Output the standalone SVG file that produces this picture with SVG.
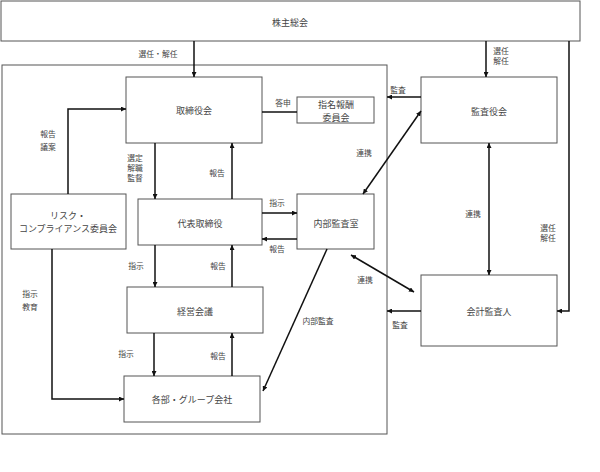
<svg xmlns="http://www.w3.org/2000/svg" width="600" height="472" viewBox="0 0 600 472">
<defs>
<style>
.box{fill:#fff;stroke:#555;stroke-width:1}
.frame{fill:none;stroke:#555;stroke-width:1}
.t{font-family:"Noto Sans CJK JP","Noto Sans",sans-serif;font-size:9px;fill:#444;text-anchor:middle;dominant-baseline:central}
.l{font-family:"Noto Sans CJK JP","Noto Sans",sans-serif;font-size:7.8px;fill:#444;text-anchor:middle;dominant-baseline:central}
.c{fill:none;stroke:#111;stroke-width:1.5}
</style>
<marker id="ah" viewBox="0 0 10 10" refX="10" refY="5" markerWidth="5" markerHeight="5" markerUnits="userSpaceOnUse" orient="auto"><path d="M0,0L10,5L0,10z" fill="#111"/></marker>
<marker id="as" viewBox="0 0 10 10" refX="0" refY="5" markerWidth="5" markerHeight="5" markerUnits="userSpaceOnUse" orient="auto"><path d="M10,0L0,5L10,10z" fill="#111"/></marker>
</defs>
<rect width="600" height="472" fill="#fff"/>
<rect class="frame" x="2" y="65" width="385" height="369"/>
<g id="shareholders"><rect class="box" x="1" y="1" width="579" height="40"/><text class="t" x="290" y="22">株主総会</text></g>
<g id="board"><rect class="box" x="126" y="77" width="136" height="66"/><text class="t" x="194" y="110">取締役会</text></g>
<g id="nomination"><rect class="box" x="297" y="97" width="77" height="26"/><text class="t" x="336" y="104">指名報酬</text><text class="t" x="336" y="117">委員会</text></g>
<g id="auditboard"><rect class="box" x="421" y="77" width="136" height="66"/><text class="t" x="489" y="111">監査役会</text></g>
<g id="risk"><rect class="box" x="11" y="194" width="115" height="55"/><text class="t" x="68" y="215.5">リスク・</text><text class="t" x="68" y="228.5">コンプライアンス委員会</text></g>
<g id="ceo"><rect class="box" x="138" y="199" width="124" height="46"/><text class="t" x="200" y="223">代表取締役</text></g>
<g id="internalaudit"><rect class="box" x="297" y="194" width="77" height="55"/><text class="t" x="336" y="223">内部監査室</text></g>
<g id="management"><rect class="box" x="127" y="287" width="136" height="46"/><text class="t" x="195" y="311">経営会議</text></g>
<g id="departments"><rect class="box" x="124" y="376" width="136" height="46"/><text class="t" x="192" y="399">各部・グループ会社</text></g>
<g id="accountant"><rect class="box" x="421" y="275" width="136" height="71"/><text class="t" x="489" y="311">会計監査人</text></g>
<g id="connectors">
<line class="c" x1="194" y1="41" x2="194" y2="77" marker-end="url(#ah)"/>
<line class="c" x1="486" y1="41" x2="486" y2="77" marker-end="url(#ah)"/>
<polyline class="c" points="569,41 569,311 557,311" marker-end="url(#ah)"/>
<polyline class="c" points="68,194 68,109 126,109" marker-end="url(#ah)"/>
<line class="c" x1="262" y1="112" x2="297" y2="112"/>
<line class="c" x1="155" y1="143" x2="155" y2="199" marker-end="url(#ah)"/>
<line class="c" x1="232" y1="199" x2="232" y2="143" marker-end="url(#ah)"/>
<line class="c" x1="262" y1="213" x2="297" y2="213" marker-end="url(#ah)"/>
<line class="c" x1="297" y1="239" x2="262" y2="239" marker-end="url(#ah)"/>
<line class="c" x1="421" y1="97" x2="387" y2="97" marker-end="url(#ah)"/>
<line class="c" x1="421" y1="111" x2="363" y2="194" marker-start="url(#as)" marker-end="url(#ah)"/>
<line class="c" x1="489" y1="143" x2="489" y2="275" marker-start="url(#as)" marker-end="url(#ah)"/>
<line class="c" x1="155" y1="245" x2="155" y2="287" marker-end="url(#ah)"/>
<line class="c" x1="232" y1="287" x2="232" y2="245" marker-end="url(#ah)"/>
<line class="c" x1="154" y1="333" x2="154" y2="376" marker-end="url(#ah)"/>
<line class="c" x1="232" y1="376" x2="232" y2="333" marker-end="url(#ah)"/>
<polyline class="c" points="52,249 52,399 124,399" marker-end="url(#ah)"/>
<line class="c" x1="327" y1="249" x2="263" y2="391" marker-end="url(#ah)"/>
<line class="c" x1="351" y1="255" x2="414" y2="292" marker-start="url(#as)" marker-end="url(#ah)"/>
<line class="c" x1="421" y1="311" x2="387" y2="311" marker-end="url(#ah)"/>
</g>
<g id="labels">
<text class="l" x="158" y="53">選任・解任</text>
<text class="l" x="501" y="50">選任</text><text class="l" x="501" y="60">解任</text>
<text class="l" x="283" y="102">答申</text>
<text class="l" x="48" y="133">報告</text><text class="l" x="48" y="146">議案</text>
<text class="l" x="135" y="157">選定</text><text class="l" x="135" y="167">解職</text><text class="l" x="135" y="177">監督</text>
<text class="l" x="217" y="172">報告</text>
<text class="l" x="277" y="202">指示</text>
<text class="l" x="277" y="248">報告</text>
<text class="l" x="398" y="89">監査</text>
<text class="l" x="364" y="152">連携</text>
<text class="l" x="473" y="213">連携</text>
<text class="l" x="548" y="227">選任</text><text class="l" x="548" y="237">解任</text>
<text class="l" x="136" y="265">指示</text>
<text class="l" x="218" y="265">報告</text>
<text class="l" x="30" y="293">指示</text><text class="l" x="30" y="306">教育</text>
<text class="l" x="126" y="353">指示</text>
<text class="l" x="218" y="355">報告</text>
<text class="l" x="318" y="320">内部監査</text>
<text class="l" x="365" y="279">連携</text>
<text class="l" x="400" y="324">監査</text>
</g>
</svg>
